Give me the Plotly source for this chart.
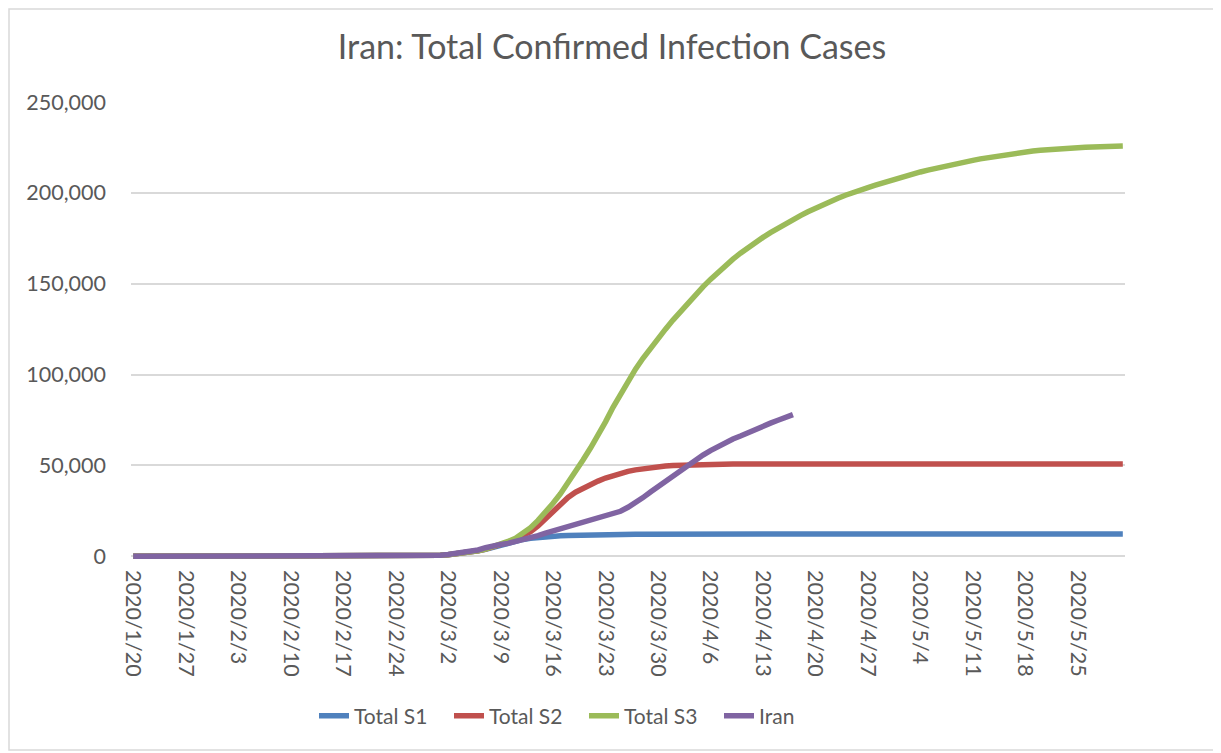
import pandas as pd
import plotly.graph_objects as go

# daily dates on the category axis, 2020/1/20 .. 2020/5/31
dates = pd.date_range("2020-01-20", "2020-05-31", freq="D")

# scenario 1 (blue)
total_s1 = [
    0, 0, 0, 0, 0, 0, 0, 0, 0, 0, 0, 0, 0, 0, 0, 0, 0, 0, 0, 0,
    0, 0, 0, 0, 0, 0, 0, 0, 0, 0, 0, 0, 0, 0, 0,
    30, 60, 100, 170, 270, 400, 600, 900, 1300, 1800, 2400, 3100, 3900, 5000, 6200,
    7400, 8500, 9300, 9900, 10400, 10800, 11100, 11300, 11500, 11650, 11750, 11850, 11900, 11950, 12000,
    12050, 12100, 12150, 12180, 12210, 12240, 12260, 12280, 12300, 12310, 12320, 12330, 12340, 12350,
    12360, 12360, 12360, 12360, 12360, 12360, 12360, 12360, 12360, 12360, 12360, 12360, 12360, 12360,
    12360, 12360, 12360, 12360, 12360, 12360, 12360, 12360, 12360, 12360, 12360, 12360, 12360, 12360,
    12360, 12360, 12360, 12360, 12360, 12360, 12360, 12360, 12360, 12360, 12360, 12360, 12360, 12360,
    12360, 12360, 12360, 12360, 12360, 12360, 12360, 12360, 12360, 12360, 12360, 12360,
]

# scenario 2 (red)
total_s2 = [
    0, 0, 0, 0, 0, 0, 0, 0, 0, 0, 0, 0, 0, 0, 0, 0, 0, 0, 0, 0,
    0, 0, 0, 0, 0, 0, 0, 0, 0, 0, 0, 0, 0, 0, 0,
    30, 60, 100, 170, 270, 400, 600, 900, 1300, 1800, 2400, 3100, 4000, 5100, 6400,
    7800, 9400, 11200, 13600, 16800, 20600, 24800, 28900, 32400, 35300, 37600, 39600, 41400, 43100, 44600,
    45800, 46800, 47600, 48300, 48900, 49300, 49700, 50000, 50200, 50400, 50500, 50600, 50700, 50750,
    50800, 50850, 50850, 50850, 50850, 50850, 50850, 50850, 50850, 50850, 50850, 50850, 50850, 50850,
    50850, 50850, 50850, 50850, 50850, 50850, 50850, 50850, 50850, 50850, 50850, 50850, 50850, 50850,
    50850, 50850, 50850, 50850, 50850, 50850, 50850, 50850, 50850, 50850, 50850, 50850, 50850, 50850,
    50850, 50850, 50850, 50850, 50850, 50850, 50850, 50850, 50850, 50850, 50850, 50850,
]

# scenario 3 (green)
total_s3 = [
    0, 0, 0, 0, 0, 0, 0, 0, 0, 0, 0, 0, 0, 0, 0, 0, 0, 0, 0, 0,
    0, 0, 0, 0, 0, 0, 0, 0, 0, 0, 0, 0, 0, 0, 0,
    30, 60, 100, 170, 270, 400, 600, 900, 1300, 1800, 2400, 3100, 4000, 5200, 6600,
    8200, 10000, 12500, 15800, 19800, 24300, 29200, 34500, 40300, 46500, 53000, 59600, 66500, 74000, 82000,
    89500, 96500, 103000, 109000, 114600, 119800, 125000, 130000, 134800, 139500, 144000, 148300, 152400, 156300,
    160000, 163500, 166800, 169900, 172800, 175500, 178100, 180600, 183000, 185300, 187500, 189600, 191600, 193500,
    195300, 197000, 198700, 200300, 201600, 202900, 204200, 205500, 206800, 208000, 209200, 210400, 211500, 212500,
    213500, 214500, 215400, 216300, 217100, 217900, 218700, 219400, 220100, 220800, 221400, 222000, 222500, 223000,
    223400, 223800, 224100, 224400, 224700, 224900, 225100, 225300, 225500, 225600, 225700, 225800,
]

# reported cases, 2020/1/20 .. 2020/4/17
iran = [
    0, 0, 0, 0, 0, 0, 0, 0, 0, 0, 0, 0, 0, 0, 0, 0, 0, 0, 0, 0,
    0, 0, 0, 0, 0, 0, 0, 0, 0, 0, 0,
    2, 5, 18, 28, 43, 61, 95, 139, 245, 388, 593, 978, 1501, 2336, 2922, 3513, 4747, 5823, 6566,
    7161, 8042, 9000, 10075, 11364, 12729, 13938, 14991, 16169, 17361, 18407, 19644, 20610, 21638, 23049,
    24811, 27017, 29406, 32332, 35408, 38309, 41495, 44605, 47593, 50468, 53183, 55743, 58226, 60500,
    62589, 64586, 66220, 68192, 70029, 71686, 73303, 74877, 76389, 77995,
]

series = [
    ("Total S1", total_s1, "#4F81BD"),
    ("Total S2", total_s2, "#C0504D"),
    ("Total S3", total_s3, "#9BBB59"),
    ("Iran", iran, "#8064A2"),
]

tick_dates = pd.date_range("2020-01-20", "2020-05-25", freq="7D")
tick_text = [f"{d.year}/{d.month}/{d.day}" for d in tick_dates]

fig = go.Figure()
for name, values, color in series:
    fig.add_trace(
        go.Scatter(
            x=dates[: len(values)],
            y=values,
            name=name,
            mode="lines",
            line=dict(color=color, width=5.5),
        )
    )

# the page body adds an 8px margin, so the figure is 8px smaller than the window
W, H = 1213, 745
L, R, T, B = 123, 96, 94, 193
PW, PH = W - L - R, H - T - B


def px(fx):
    return (fx - L) / PW


def py(fy):
    return (H - B - fy) / PH


grey = "#595959"
fig.update_layout(
    width=W,
    height=H,
    margin=dict(l=L, r=R, t=T, b=B, autoexpand=False),
    paper_bgcolor="white",
    plot_bgcolor="white",
    font=dict(family="Lato", color=grey, size=21),
    title=dict(
        text="Iran: Total Confirmed Infection Cases",
        x=(612 - 8) / W,
        xref="container",
        y=1 - 39 / H,
        yref="container",
        yanchor="middle",
        xanchor="center",
        font=dict(size=34, color=grey, family="Lato"),
    ),
    xaxis=dict(
        type="date",
        range=["2020-01-19 17:00", "2020-05-31 07:00"],
        tickvals=list(tick_dates),
        ticktext=tick_text,
        tickangle=90,
        showgrid=False,
        zeroline=False,
        showline=False,
        ticks="",
        ticklabelstandoff=9,
        tickfont=dict(size=21.5, color=grey),
    ),
    yaxis=dict(
        range=[-2000, 250000],
        tickvals=[0, 50000, 100000, 150000, 200000, 250000],
        tickformat=",d",
        showgrid=True,
        gridcolor="#D9D9D9",
        gridwidth=1.5,
        zeroline=False,
        showline=False,
        ticks="",
        ticklabelstandoff=24,
        tickfont=dict(size=21.5, color=grey),
    ),
    legend=dict(
        orientation="h",
        x=px(314 - 8),
        xanchor="left",
        y=py(716 - 8),
        yanchor="middle",
        font=dict(size=21, color=grey),
        bgcolor="rgba(0,0,0,0)",
        entrywidth=90,
        entrywidthmode="pixels",
    ),
    showlegend=True,
)

# chart-area border
fig.add_shape(
    type="rect",
    xref="paper",
    yref="paper",
    x0=px(1),
    x1=px(1218 - 8),
    y0=py(750 - 8),
    y1=py(1),
    line=dict(color="#D9D9D9", width=1.5),
    layer="below",
)

fig.write_html("out.html")
